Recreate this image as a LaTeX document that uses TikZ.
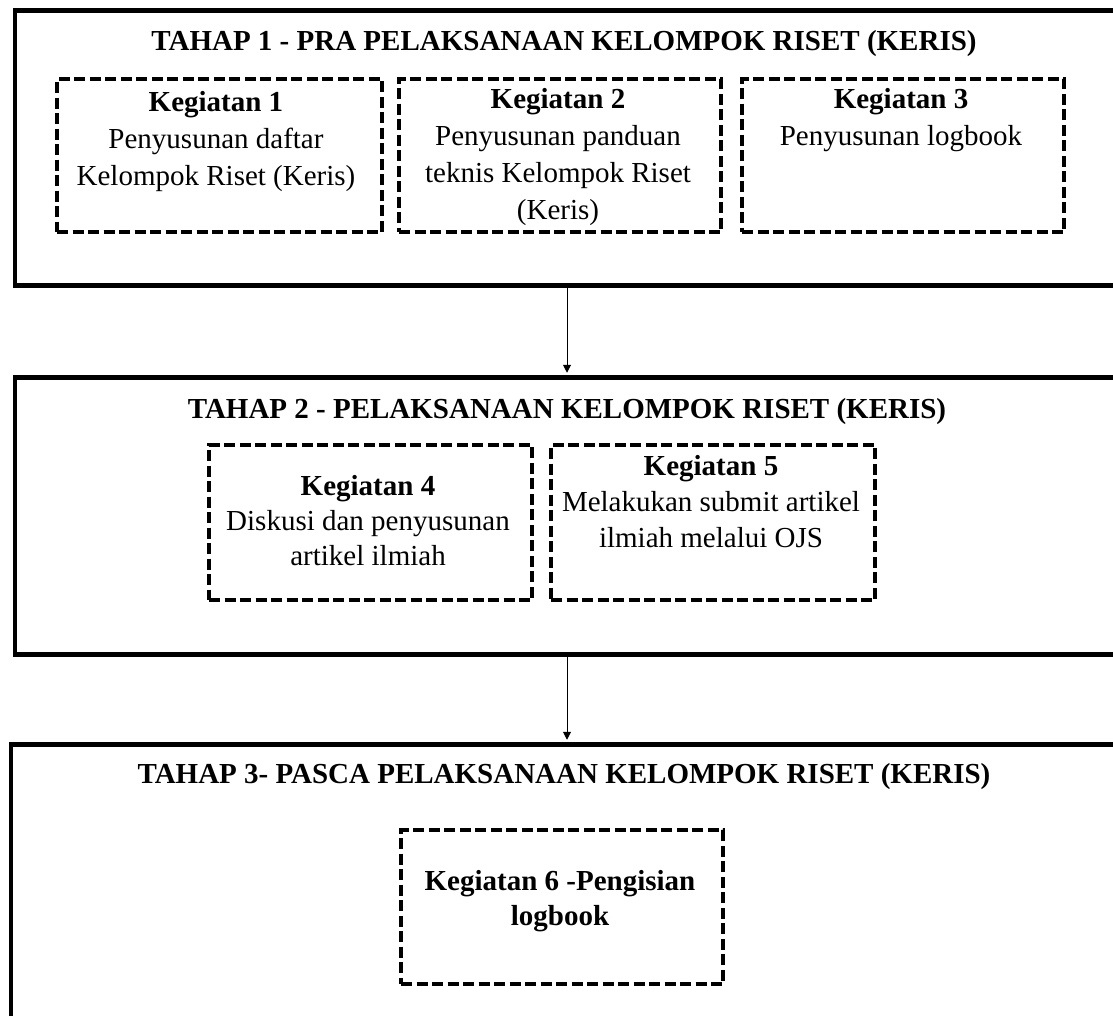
\documentclass[tikz,border=0pt]{standalone}
\usepackage{fontspec}
\setmainfont{Liberation Serif}
\usetikzlibrary{arrows.meta}
\begin{document}
\begin{tikzpicture}[x=1pt,y=-1pt,
  stage/.style={draw, line width=4.5pt, inner sep=0pt, anchor=north west, minimum width=1112pt},
  kbox/.style={draw, line width=4pt, dash pattern=on 11pt off 4.5pt, inner sep=0pt, anchor=north west},
  title/.style={font=\fontsize{29}{36}\selectfont\bfseries, anchor=base, inner sep=0pt},
  body/.style={font=\fontsize{29}{37}\selectfont, align=center, anchor=base, inner sep=0pt},
  arr/.style={line width=1pt, -{Triangle[length=8pt,width=8pt]}, shorten >=2.25pt}]
\useasboundingbox (0,0) rectangle (1113,1015);
\clip (0,0) rectangle (1113,1015);
\fill[white] (0,0) rectangle (1113,1015);
% stages
\node[stage, minimum height=275pt] (s1) at (12.5,8) {};
\node[stage, minimum height=277pt] (s2) at (12.5,375) {};
\node[stage, minimum height=300pt] (s3) at (8.5,742) {};
% titles
\node[title] (t1) at (564,50) {TAHAP 1 - PRA PELAKSANAAN KELOMPOK RISET (KERIS)};
\node[title] (t2) at (567,418) {TAHAP 2 - PELAKSANAAN KELOMPOK RISET (KERIS)};
\node[title] (t3) at (564,783) {TAHAP 3- PASCA PELAKSANAAN KELOMPOK RISET (KERIS)};
% activity boxes
\node[kbox, minimum width=325pt, minimum height=153pt] (k1) at (55,77) {};
\node[kbox, minimum width=322pt, minimum height=153pt] (k2) at (397,77) {};
\node[kbox, minimum width=322pt, minimum height=153pt] (k3) at (740,77) {};
\node[kbox, minimum width=323pt, minimum height=155pt] (k4) at (207,443) {};
\node[kbox, minimum width=324pt, minimum height=155pt] (k5) at (549,443) {};
\node[kbox, minimum width=322pt, minimum height=154pt] (k6) at (399,828) {};
% texts (anchored at the baseline of the last line)
\node[body] (x1) at (216,185) {\textbf{Kegiatan 1}\\Penyusunan daftar\\Kelompok Riset (Keris)};
\node[body] (x2) at (558,219) {\textbf{Kegiatan 2}\\Penyusunan panduan\\teknis Kelompok Riset\\(Keris)};
\node[body] (x3) at (901,145) {\textbf{Kegiatan 3}\\Penyusunan logbook};
\node[body, font=\fontsize{29}{35}\selectfont] (x4) at (368,565) {\textbf{Kegiatan 4}\\Diskusi dan penyusunan\\artikel ilmiah};
\node[body, font=\fontsize{29}{36}\selectfont] (x5) at (711,547) {\textbf{Kegiatan 5}\\Melakukan submit artikel\\ilmiah melalui OJS};
\node[body, font=\fontsize{29}{35}\selectfont\bfseries] (x6) at (560,925) {Kegiatan 6 -Pengisian\\logbook};
% connectors
\coordinate (ax) at (567,0);
\draw[arr] (s1.south -| ax) -- (s2.north -| ax);
\draw[arr] (s2.south -| ax) -- (s3.north -| ax);
\end{tikzpicture}
\end{document}
